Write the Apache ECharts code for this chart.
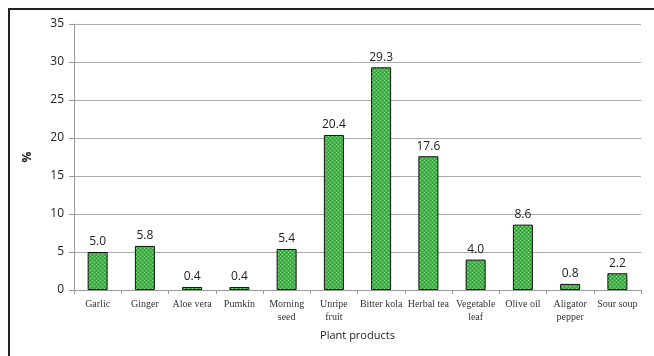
<!DOCTYPE html>
<html>
<head>
<meta charset="utf-8">
<script src="https://cdn.jsdelivr.net/npm/echarts@6/dist/echarts.min.js"></script>
<style>
  html, body { margin: 0; padding: 0; background: #fff; }
  #frame { position: absolute; left: 8px; top: 8px; width: 654px; height: 356px; border-left: 2px solid #222; border-top: 2px solid #222; box-sizing: border-box; }
  #chart { position: absolute; left: 0; top: 0; width: 654px; height: 356px; }
</style>
</head>
<body>
<div id="frame"></div>
<div id="chart"></div>
<script>
const categories = ['Garlic', 'Ginger', 'Aloe vera', 'Pumkin', 'Morning\nseed', 'Unripe\nfruit',
  'Bitter kola', 'Herbal tea', 'Vegetable\nleaf', 'Olive oil', 'Aligator\npepper', 'Sour soup'];
const percentages = [5.0, 5.8, 0.4, 0.4, 5.4, 20.4, 29.3, 17.6, 4.0, 8.6, 0.8, 2.2];
const yTicks = [0, 5, 10, 15, 20, 25, 30, 35];

// dotted green fill for the bars
const tile = document.createElement('canvas');
tile.width = 4; tile.height = 4;
const g = tile.getContext('2d');
g.fillStyle = '#3ab84a';
g.fillRect(0, 0, 4, 4);
g.fillStyle = '#86e07e';
g.fillRect(0, 0, 1, 1);
g.fillRect(2, 2, 1, 1);
g.fillStyle = '#2a9e3c';
g.fillRect(2, 0, 1, 1);
g.fillRect(0, 2, 1, 1);

const chart = echarts.init(document.getElementById('chart'), null, { renderer: 'canvas' });
chart.setOption({
  animation: false,
  grid: { left: 74, right: 13, top: 24, bottom: 66, containLabel: false },
  xAxis: {
    type: 'category',
    data: categories,
    name: 'Plant products',
    nameLocation: 'middle',
    nameGap: 40,
    nameTextStyle: { fontFamily: 'Open Sans', fontSize: 11, color: '#222' },
    axisLine: { lineStyle: { color: '#999', width: 1 } },
    axisTick: { show: true, alignWithLabel: false, length: 4, lineStyle: { color: '#999' } },
    axisLabel: { interval: 0, fontFamily: 'Liberation Serif', fontSize: 10, color: '#333', lineHeight: 13, margin: 8 }
  },
  yAxis: {
    type: 'value',
    min: yTicks[0],
    max: yTicks[yTicks.length - 1],
    interval: 5,
    name: '%',
    nameLocation: 'middle',
    nameGap: 40,
    nameRotate: 90,
    nameTextStyle: { fontFamily: 'Open Sans', fontSize: 12, fontWeight: 'bold', color: '#222' },
    axisLine: { show: true, lineStyle: { color: '#999' } },
    axisTick: { show: true, length: 5, lineStyle: { color: '#999' } },
    axisLabel: { fontFamily: 'Open Sans', fontSize: 12, color: '#222', margin: 10 },
    splitLine: { lineStyle: { color: '#aaa', width: 1 } }
  },
  series: [{
    type: 'bar',
    data: percentages,
    barWidth: 20,
    itemStyle: {
      color: { image: tile, repeat: 'repeat' },
      borderColor: '#111',
      borderWidth: 1
    },
    label: {
      show: true,
      position: 'top',
      distance: 4,
      formatter: p => p.value.toFixed(1),
      fontFamily: 'Open Sans',
      fontSize: 12,
      color: '#222'
    }
  }]
});
</script>
</body>
</html>
